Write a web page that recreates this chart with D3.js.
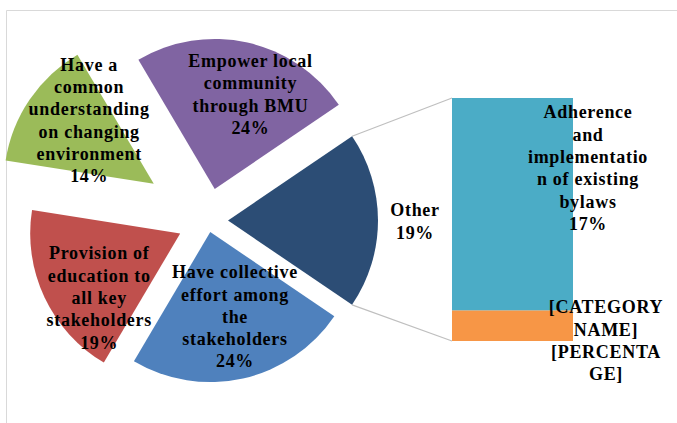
<!DOCTYPE html>
<html>
<head>
<meta charset="utf-8">
<script src="https://cdn.jsdelivr.net/npm/d3@7"></script>
<style>
  html, body { margin: 0; padding: 0; background: #fff; }
  svg { display: block; }
  .lbl { font-family: "Liberation Serif", "Times New Roman", serif; font-weight: bold; font-size: 18px; letter-spacing: 0.7px; fill: #000; }
</style>
</head>
<body>
<svg id="chart" width="677" height="423"></svg>
<script>
// Pie slices (the "Other" slice is broken out into the bar on the right)
const pieCategories = [
  "Other",
  "Have collective\neffort among\nthe\nstakeholders",
  "Provision of\neducation to\nall key\nstakeholders",
  "Have a\ncommon\nunderstanding\non changing\nenvironment",
  "Empower local\ncommunity\nthrough BMU"
];
const pieValues = [19, 24, 19, 14, 24];

// Breakdown of "Other" shown as the stacked bar
const barCategories = ["[CATEGORY\nNAME]", "Adherence\nand\nimplementatio\nn of existing\nbylaws"];
const barValues = [2.4, 16.6];
const barLabelShowsValue = [false, true];
const barPlaceholderValue = "[PERCENTA\nGE]";

const pieColors = ["#2C4D75", "#4F81BD", "#C0504D", "#9BBB59", "#8064A2"];
const barColors = ["#F79646", "#4BACC6"];

// ---- layout ----
const W = 677, H = 423;
const svg = d3.select("#chart");
const center = { x: 207.7, y: 220.5 };
const R = 150;
const explode = [20.3, 11.8, 30.4, 65.2, 32.3];
const labelR = 95;
const labelNudge = [[0, 1], [4, -8], [5, 24], [14, -10], [15, -2]];
const LH = 22.3, FS = 18;

// plot frame (top and left edges visible)
svg.append("path")
  .attr("d", `M6.5,${H} L6.5,10.5 L${W},10.5`)
  .attr("fill", "none").attr("stroke", "#D9D9D9").attr("stroke-width", 1);

const otherFrac = pieValues[0] / d3.sum(pieValues);
const pie = d3.pie().sort(null).value(d => d)
  .startAngle(Math.PI / 2 - otherFrac * Math.PI)
  .endAngle(Math.PI / 2 - otherFrac * Math.PI + 2 * Math.PI);
const arcs = pie(pieValues);
const arc = d3.arc().innerRadius(0).outerRadius(R);

function polar(a, r) { // d3 angle (0 = up, clockwise)
  return [r * Math.sin(a), -r * Math.cos(a)];
}

const tips = arcs.map((d, i) => {
  const m = (d.startAngle + d.endAngle) / 2;
  const [dx, dy] = polar(m, explode[i]);
  return [center.x + dx, center.y + dy];
});

// bar scale
const barX = d3.scaleBand().domain(["other"]).range([452, 573]).paddingInner(0).paddingOuter(0);
const barY = d3.scaleLinear().domain([0, d3.sum(barValues)]).range([341, 98]);
const stack = [];
let acc = 0;
barValues.forEach((v, i) => { stack.push({ y0: acc, y1: acc + v, i }); acc += v; });

// connector lines from the "Other" slice to the bar
const oA = arcs[0];
const c1 = polar(oA.startAngle, R), c2 = polar(oA.endAngle, R);
svg.append("line")
  .attr("x1", tips[0][0] + c1[0]).attr("y1", tips[0][1] + c1[1])
  .attr("x2", barX("other")).attr("y2", barY(d3.sum(barValues)))
  .attr("stroke", "#BFBFBF").attr("stroke-width", 1.2);
svg.append("line")
  .attr("x1", tips[0][0] + c2[0]).attr("y1", tips[0][1] + c2[1])
  .attr("x2", barX("other")).attr("y2", barY(0))
  .attr("stroke", "#BFBFBF").attr("stroke-width", 1.2);

// pie slices
svg.append("g").selectAll("path").data(arcs).join("path")
  .attr("transform", (d, i) => `translate(${tips[i][0]},${tips[i][1]})`)
  .attr("d", arc)
  .attr("fill", (d, i) => pieColors[i]);

// bar segments
svg.append("g").selectAll("rect").data(stack).join("rect")
  .attr("x", barX("other"))
  .attr("width", barX.bandwidth())
  .attr("y", d => barY(d.y1))
  .attr("height", d => barY(d.y0) - barY(d.y1))
  .attr("fill", d => barColors[d.i]);

// multi-line centred label
function label(cx, cy, lines) {
  const t = svg.append("text").attr("class", "lbl").attr("text-anchor", "middle");
  const y0 = cy - (lines.length - 1) / 2 * LH + FS * 0.34;
  lines.forEach((s, k) => {
    t.append("tspan").attr("x", cx).attr("y", y0 + k * LH).text(s);
  });
}

const fmt = v => Math.round(v) + "%";

arcs.forEach((d, i) => {
  const m = (d.startAngle + d.endAngle) / 2;
  const r = i === 0 ? R + 37 : labelR;
  const [dx, dy] = polar(m, r);
  const lines = pieCategories[i].split("\n").concat([fmt(pieValues[i])]);
  label(tips[i][0] + dx + labelNudge[i][0], tips[i][1] + dy + labelNudge[i][1], lines);
});

// bar labels
const barRight = barX("other") + barX.bandwidth();
stack.forEach(d => {
  const lines = barCategories[d.i].split("\n")
    .concat(barLabelShowsValue[d.i] ? [fmt(barValues[d.i])] : barPlaceholderValue.split("\n"));
  if (d.i === 1) {
    label(barRight + 15, barY(d.y1) + 70, lines);
  } else {
    label(barRight + 33, (barY(d.y0) + barY(d.y1)) / 2 + 15, lines);
  }
});
</script>
</body>
</html>
